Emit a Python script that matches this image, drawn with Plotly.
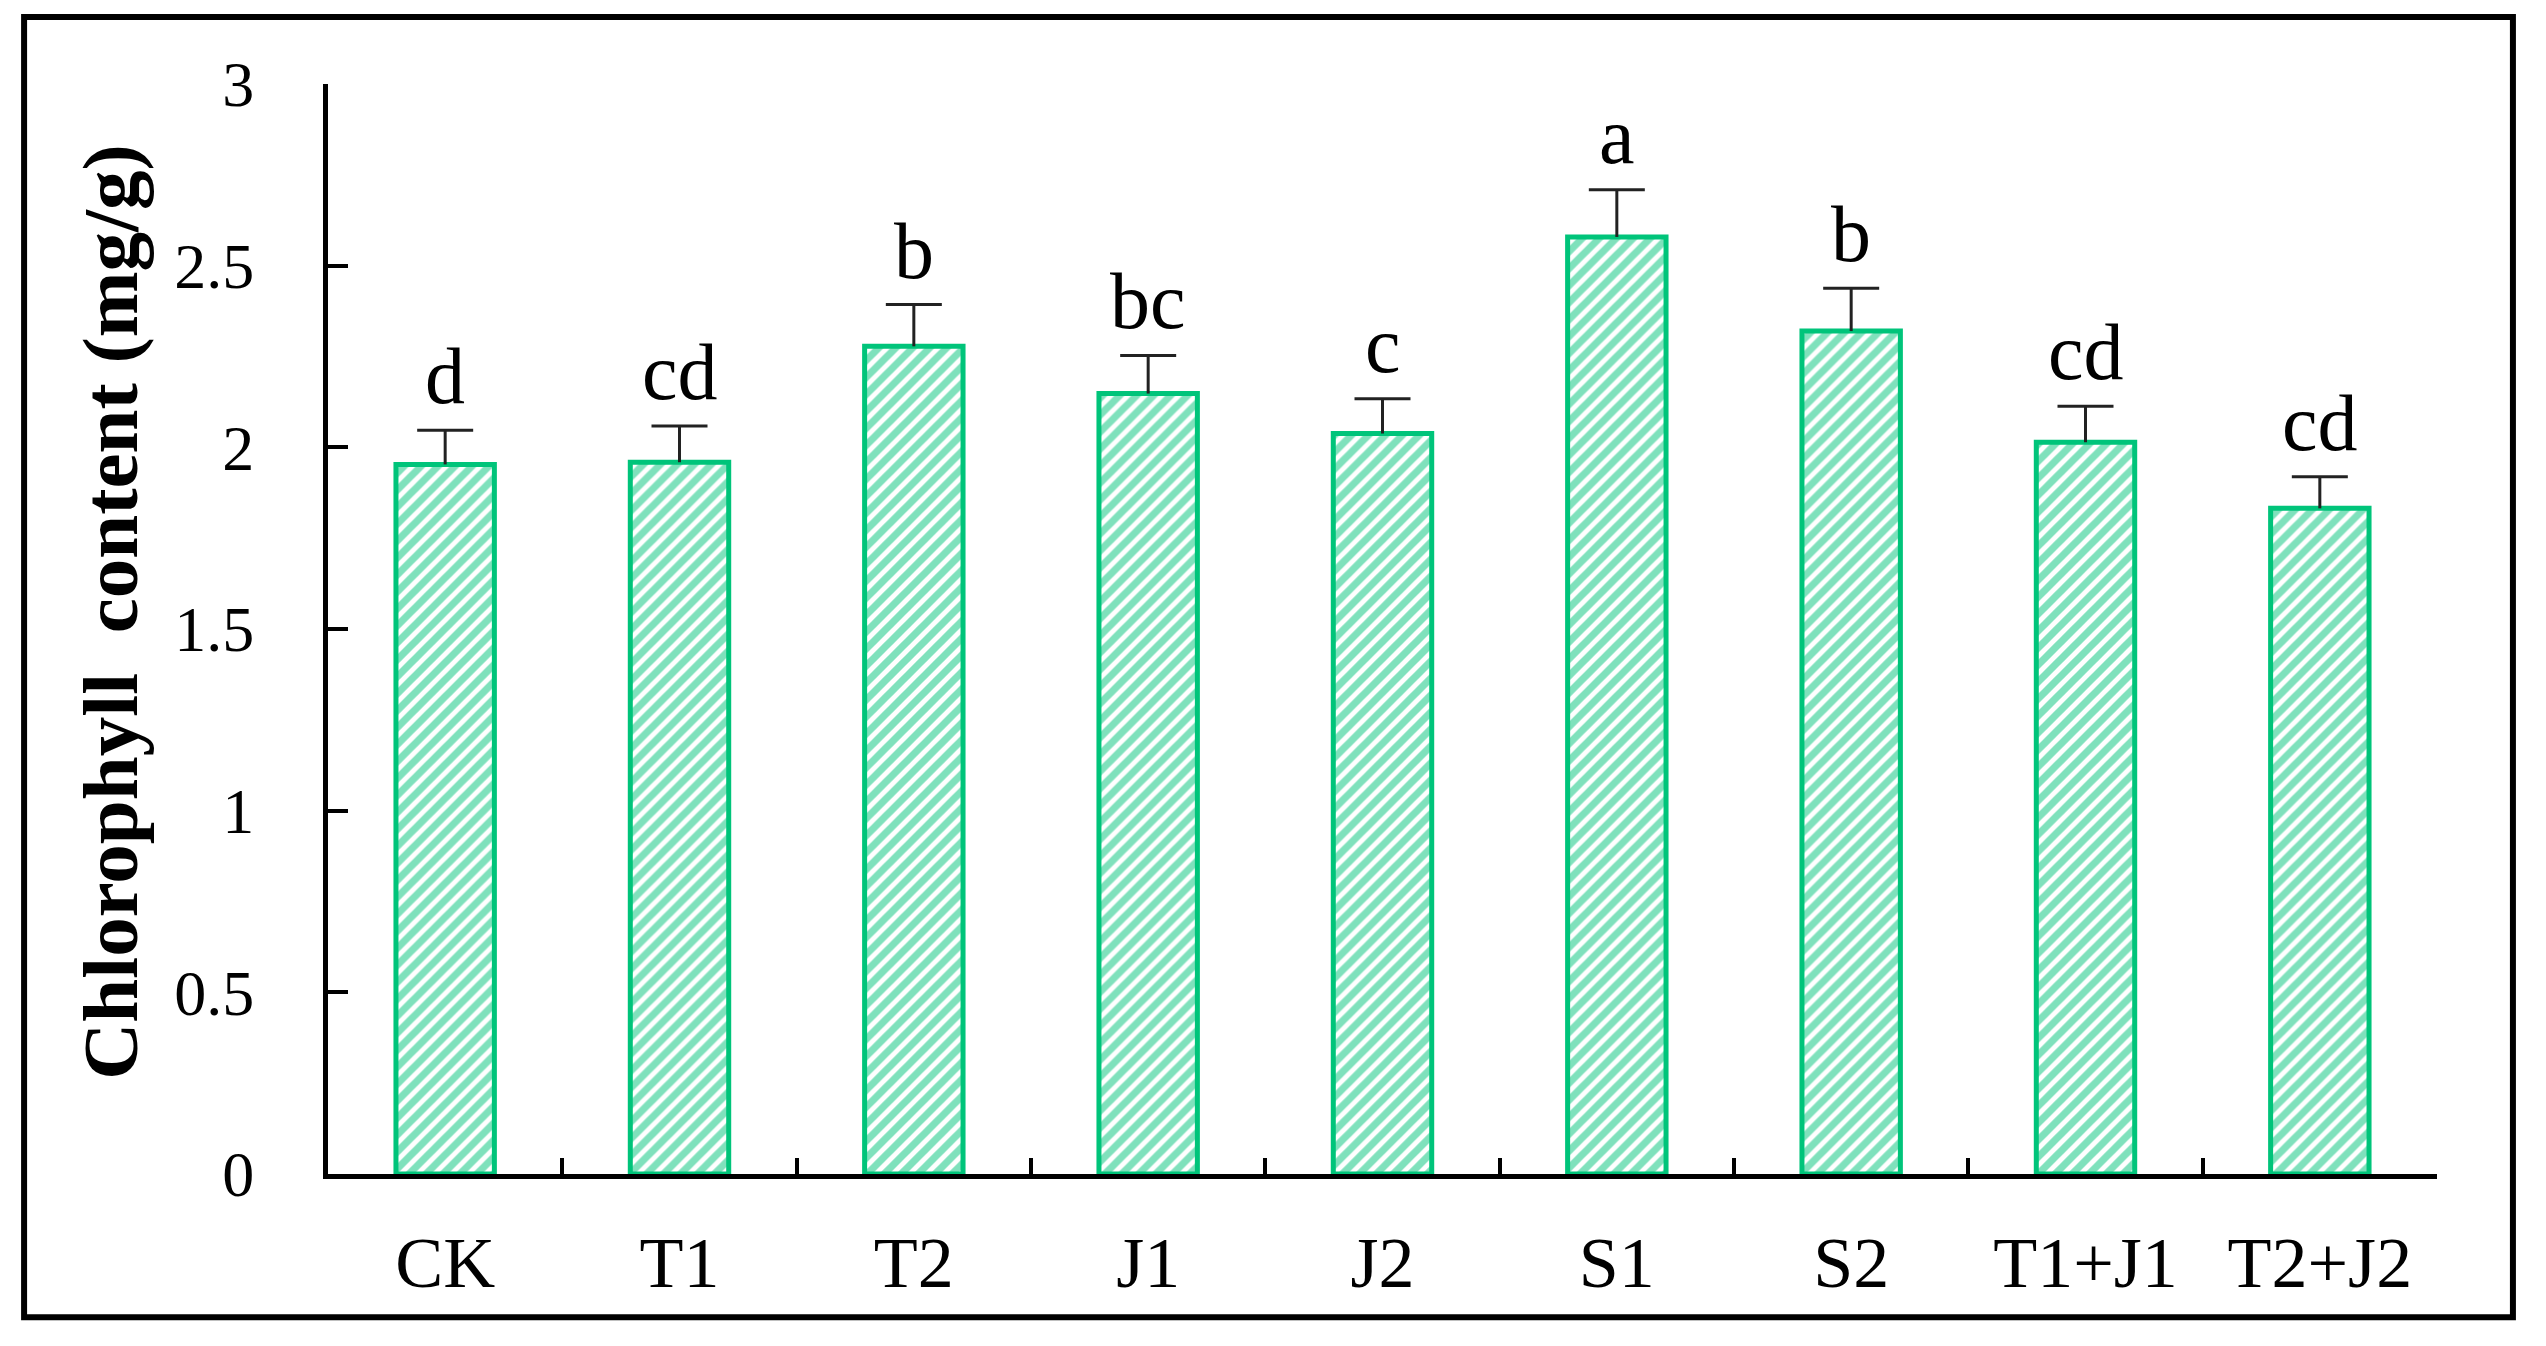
import plotly.graph_objects as go

categories = ["CK", "T1", "T2", "J1", "J2", "S1", "S2", "T1+J1", "T2+J2"]
values = [1.953, 1.959, 2.278, 2.148, 2.038, 2.579, 2.320, 2.014, 1.832]
errors = [0.094, 0.100, 0.115, 0.105, 0.096, 0.130, 0.118, 0.099, 0.087]
letters = ["d", "cd", "b", "bc", "c", "a", "b", "cd", "cd"]
y_ticks = [0, 0.5, 1, 1.5, 2, 2.5, 3]

GREEN = "#00C47A"
ERR = "#222222"
FONT = "Liberation Serif, Times New Roman, serif"

fig = go.Figure()
fig.add_trace(go.Bar(
    x=categories,
    y=values,
    marker=dict(
        color="white",
        line=dict(color=GREEN, width=5),
        pattern=dict(shape="/", fgcolor=GREEN, bgcolor="white", size=12, solidity=0.6),
    ),
    error_y=dict(type="data", symmetric=False, array=errors, arrayminus=[0] * len(errors),
                 visible=True, color=ERR, thickness=3, width=0),
    showlegend=False,
))

# caps of the upper error bars
tops = [v + e for v, e in zip(values, errors)]
fig.add_trace(go.Scatter(
    x=categories, y=tops, mode="markers",
    marker=dict(symbol="line-ew", size=40, color=ERR, line=dict(color=ERR, width=3)),
    showlegend=False, hoverinfo="skip",
))

for c, t, lab in zip(categories, tops, letters):
    fig.add_annotation(
        x=c, y=t, text=lab, showarrow=False, yanchor="bottom", yshift=8,
        font=dict(family=FONT, size=80, color="black"),
    )

fig.add_annotation(
    xref="paper", yref="paper", x=-0.1033, y=0.516, textangle=-90,
    text="<b>Chlorophyll  content (mg/g)</b>", showarrow=False,
    xanchor="center", yanchor="middle",
    font=dict(family=FONT, size=79, color="black"),
)

fig.update_layout(
    width=2546, height=1346,
    margin=dict(l=328, r=109, t=84, b=172),
    paper_bgcolor="white", plot_bgcolor="white",
    bargap=0.58,
    font=dict(family=FONT, color="black"),
    shapes=[dict(
        type="rect", xref="paper", yref="paper",
        x0=-0.1441, x1=1.036, y0=-0.1315, y1=1.0615,
        line=dict(color="black", width=6), fillcolor="rgba(0,0,0,0)", layer="above",
    )],
)

fig.update_xaxes(
    type="category", range=[-0.5, len(categories) - 0.5],
    showline=True, linecolor="black", linewidth=5,
    ticks="inside", tickson="boundaries", ticklen=16, tickwidth=4, tickcolor="black",
    tickfont=dict(family=FONT, size=72, color="black"), ticklabelstandoff=22,
    showgrid=False, zeroline=False,
)
fig.update_yaxes(
    range=[0, 3], tickvals=y_ticks, ticktext=[f"{v:g}" for v in y_ticks],
    showline=True, linecolor="black", linewidth=5,
    ticks="inside", ticklen=20, tickwidth=4, tickcolor="black",
    tickfont=dict(family=FONT, size=64, color="black"), ticklabelstandoff=56,
    showgrid=False, zeroline=False,
)

fig.write_html(
    "out.html",
    config={"displayModeBar": False},
    post_script="document.body.style.margin='0';document.body.style.overflow='hidden';",
)
